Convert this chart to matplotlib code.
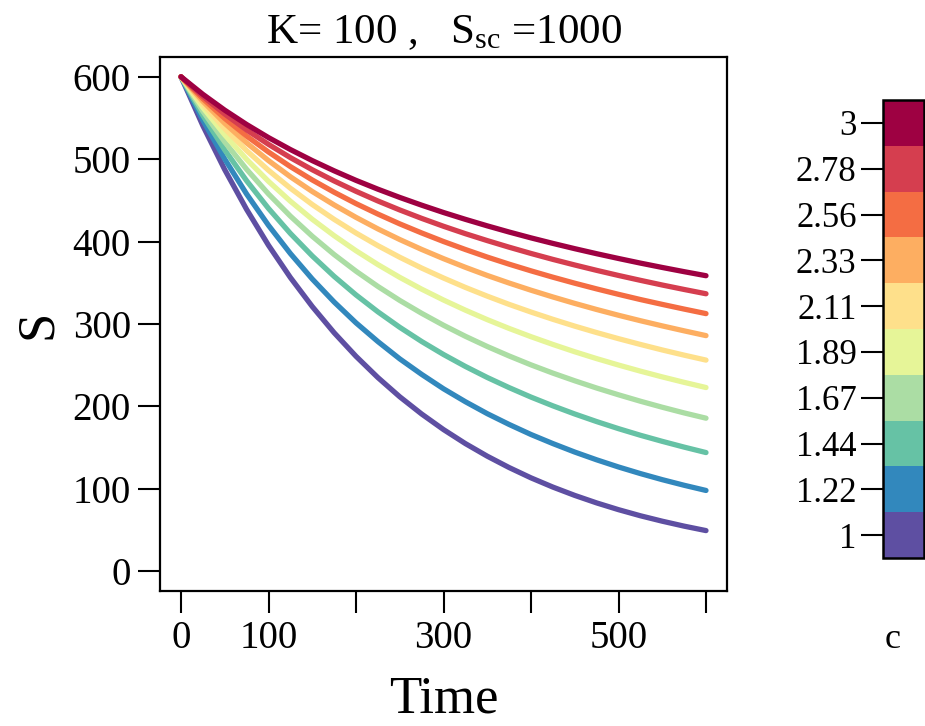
import numpy as np
import matplotlib
matplotlib.use("Agg")
import matplotlib.pyplot as plt
from matplotlib.colors import ListedColormap, BoundaryNorm
from matplotlib.cm import ScalarMappable

plt.rcParams["font.family"] = ["Liberation Serif", "DejaVu Serif"]
plt.rcParams["mathtext.fontset"] = "custom"
plt.rcParams["mathtext.rm"] = "Liberation Serif"

# time grid
time = [0, 25, 50, 75, 100, 125, 150, 175, 200, 225, 250, 275, 300,
        325, 350, 375, 400, 425, 450, 475, 500, 525, 550, 575, 600]

# S(t) for each c
S_c100 = [600, 540.6, 487.2, 439.0, 395.5, 356.4, 321.2, 289.4, 260.8, 235.0, 211.7, 190.8, 171.9,
          154.9, 139.6, 125.8, 113.3, 102.1, 92.0, 82.9, 74.7, 67.3, 60.7, 54.7, 49.3]
S_c122 = [600, 547.2, 500.1, 457.7, 419.7, 385.5, 354.6, 326.7, 301.4, 278.7, 257.7, 238.9, 221.4,
          205.7, 191.2, 178.1, 165.9, 154.9, 144.6, 135.2, 126.5, 118.5, 111.1, 104.3, 98.0]
S_c144 = [600, 553.0, 511.2, 473.8, 440.2, 409.9, 382.6, 357.8, 335.3, 314.8, 296.0, 278.8, 263.0,
          248.5, 235.1, 222.8, 211.3, 200.7, 190.8, 181.6, 173.0, 165.0, 157.6, 150.6, 144.0]
S_c167 = [600, 558.1, 520.9, 487.7, 457.8, 430.9, 406.5, 384.3, 364.1, 345.6, 328.6, 313.0, 298.5,
          285.1, 272.7, 261.2, 250.4, 240.4, 231.1, 222.3, 214.1, 206.3, 199.0, 192.1, 185.7]
S_c189 = [600, 562.6, 529.5, 499.8, 473.1, 449.0, 427.1, 407.2, 388.9, 372.1, 356.6, 342.3, 329.1,
          316.8, 305.3, 294.6, 284.6, 275.2, 266.3, 258.0, 250.2, 242.8, 235.8, 229.2, 222.9]
S_c211 = [600, 566.6, 537.0, 510.4, 486.5, 464.8, 445.0, 427.0, 410.4, 395.1, 381.0, 367.9, 355.8,
          344.4, 333.8, 323.8, 314.5, 305.7, 297.4, 289.6, 282.2, 275.2, 268.5, 262.2, 256.2]
S_c233 = [600, 570.2, 543.6, 519.8, 498.3, 478.7, 460.8, 444.5, 429.4, 415.4, 402.5, 390.5, 379.3,
          368.8, 358.9, 349.7, 341.0, 332.8, 325.0, 317.6, 310.6, 304.0, 297.7, 291.7, 285.9]
S_c256 = [600, 573.4, 549.5, 528.1, 508.7, 491.0, 474.8, 459.9, 446.1, 433.4, 421.5, 410.5, 400.1,
          390.4, 381.2, 372.6, 364.5, 356.8, 349.5, 342.6, 336.0, 329.7, 323.8, 318.1, 312.6]
S_c278 = [600, 576.2, 554.8, 535.5, 518.0, 501.9, 487.2, 473.6, 461.0, 449.3, 438.4, 428.2, 418.6,
          409.6, 401.2, 393.2, 385.6, 378.4, 371.6, 365.1, 358.9, 353.0, 347.3, 341.9, 336.7]
S_c300 = [600, 578.7, 559.5, 542.1, 526.2, 511.7, 498.3, 485.9, 474.3, 463.6, 453.6, 444.2, 435.3,
          427.0, 419.1, 411.6, 404.5, 397.8, 391.4, 385.3, 379.5, 373.9, 368.6, 363.5, 358.6]

curves = [S_c100, S_c122, S_c144, S_c167, S_c189, S_c211, S_c233, S_c256, S_c278, S_c300]
c_labels = ["1", "1.22", "1.44", "1.67", "1.89", "2.11", "2.33", "2.56", "2.78", "3"]

# RColorBrewer Spectral, low c -> purple, high c -> dark red
colors = ["#5E4FA2", "#3288BD", "#66C2A5", "#ABDDA4", "#E6F598",
          "#FEE08B", "#FDAE61", "#F46D43", "#D53E4F", "#9E0142"]

x_ticks = [0, 100, 200, 300, 400, 500, 600]
x_ticklabels = ["0", "100", "", "300", "", "500", ""]
y_ticks = [0, 100, 200, 300, 400, 500, 600]

fig = plt.figure(figsize=(9.25, 7.26), dpi=100)
ax = fig.add_axes([160 / 925, 135 / 726, 567 / 925, 534 / 726])

for s, col in zip(curves, colors):
    ax.plot(time, s, color=col, linewidth=3.8, solid_capstyle="round",
            solid_joinstyle="round")

ax.set_xlim(-24, 624)
ax.set_ylim(-24, 624)
ax.set_xticks(x_ticks)
ax.set_xticklabels(x_ticklabels)
ax.set_yticks(y_ticks)
ax.tick_params(axis="both", direction="out", length=16, width=1.5,
               labelsize=28, pad=5)
for spine in ax.spines.values():
    spine.set_linewidth(1.6)

ax.set_xlabel("Time", fontsize=38)
ax.xaxis.set_label_coords(0.5, -0.158)
ax.set_ylabel("S", fontsize=38)
ax.yaxis.set_label_coords(-0.172, 0.5)
ax.set_title(r"K= 100 ,   $\mathrm{S_{sc}}$ =1000", fontsize=31, pad=10)

# discrete colour key
cax = fig.add_axes([883 / 925, 168 / 726, 41 / 925, 458 / 726])
bounds = np.arange(len(colors) + 1) + 0.5
sm = ScalarMappable(norm=BoundaryNorm(bounds, len(colors)), cmap=ListedColormap(colors))
cb = fig.colorbar(sm, cax=cax, ticks=np.arange(1, len(colors) + 1))
cb.ax.minorticks_off()
cb.ax.set_yticklabels(c_labels)
cb.ax.yaxis.set_ticks_position("left")
cb.ax.tick_params(direction="out", length=16, width=1.5, labelsize=25, pad=3)
cb.outline.set_linewidth(1.8)
fig.text(893 / 925, 1 - 640 / 726, "c", fontsize=26, ha="center", va="center")

fig.savefig("out.png", dpi=100)
